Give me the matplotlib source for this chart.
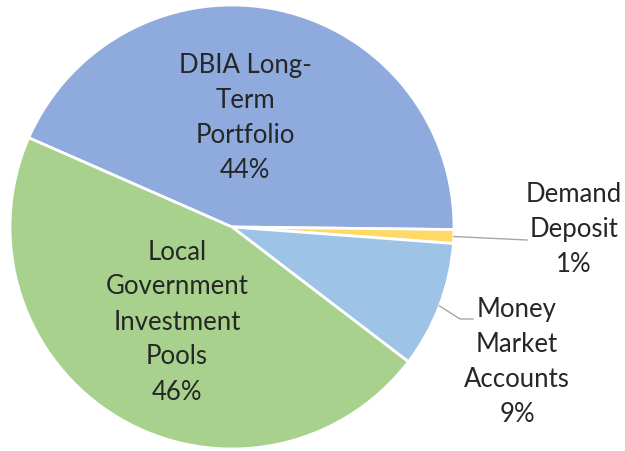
import matplotlib
matplotlib.use("Agg")
import matplotlib.pyplot as plt
import numpy as np

categories = ["DBIA Long-\nTerm\nPortfolio", "Demand\nDeposit", "Money\nMarket\nAccounts",
              "Local\nGovernment\nInvestment\nPools"]
values = [43.6, 1.0, 9.2, 46.2]
colors = ["#8faadc", "#ffd966", "#9dc3e6", "#a9d18e"]

W, H = 625, 451
fig = plt.figure(figsize=(W / 100, H / 100), dpi=100)
cx, cy, R = 232, 227, 222
ax = fig.add_axes([(cx - R) / W, (H - cy - R) / H, 2 * R / W, 2 * R / H])

wedges, _ = ax.pie(values, colors=colors, startangle=156.3, counterclock=False,
                   radius=1, wedgeprops=dict(edgecolor="white", linewidth=2))
ax.set_xlim(-1, 1)
ax.set_ylim(-1, 1)
ax.set_aspect("equal")
ax.axis("off")

def px(x, y):
    return (x - cx) / R, (cy - y) / R

total = sum(values)
pcts = [f"{round(v / total * 100):.0f}%" for v in values]
txtcolor = "#262626"
font = dict(family="Lato", fontsize=18.5, color=txtcolor, ha="center", va="center",
            linespacing=1.5)

# label positions (pixel centers)
label_pos = [(245, 118), (574, 230), (517, 362), (177, 322)]
for cat, pct, (lx, ly) in zip(categories, pcts, label_pos):
    x, y = px(lx, ly)
    ax.text(x, y, cat + "\n" + pct, **font)

# leader lines
lc = "#a6a6a6"
def mid_point(w):
    a = np.deg2rad((w.theta1 + w.theta2) / 2)
    return np.cos(a), np.sin(a)

mx, my = mid_point(wedges[1])
ex, ey = px(527, 240)
ax.plot([mx, ex], [my, ey], color=lc, lw=1, clip_on=False)

mx, my = mid_point(wedges[2])
bx, by = px(460, 319)
ex, ey = px(473, 319)
ax.plot([mx, bx, ex], [my, by, ey], color=lc, lw=1, clip_on=False)

fig.savefig("out.png", dpi=100)
